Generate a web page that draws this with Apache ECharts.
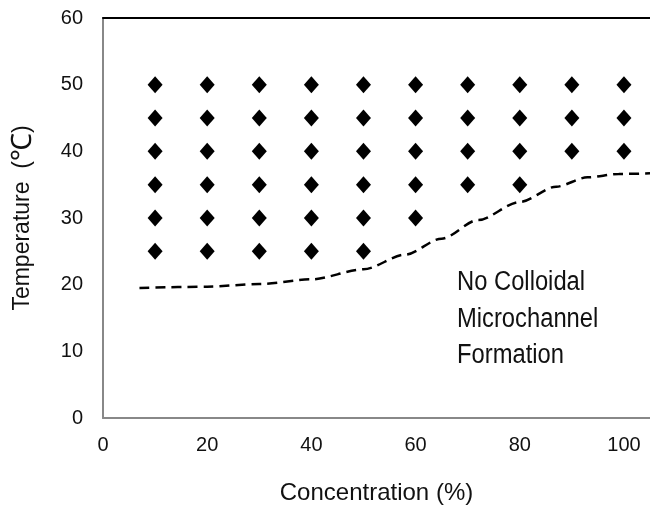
<!DOCTYPE html>
<html>
<head>
<meta charset="utf-8">
<script src="https://cdn.jsdelivr.net/npm/echarts@6/dist/echarts.min.js"></script>
<style>
  html, body { margin: 0; padding: 0; background: #fff; }
  #chart { width: 650px; height: 508px; }
</style>
</head>
<body>
<div id="chart"></div>
<script>
// observed points: concentration -> temperatures with microchannels
var concentrations = [10, 20, 30, 40, 50, 60, 70, 80, 90, 100];
var tempsAt = [
  [25, 30, 35, 40, 45, 50],
  [25, 30, 35, 40, 45, 50],
  [25, 30, 35, 40, 45, 50],
  [25, 30, 35, 40, 45, 50],
  [25, 30, 35, 40, 45, 50],
  [30, 35, 40, 45, 50],
  [35, 40, 45, 50],
  [35, 40, 45, 50],
  [40, 45, 50],
  [40, 45, 50]
];
// dashed boundary line
var boundaryX = [7, 20, 30, 40, 50, 58, 65, 72, 80, 87, 93, 99, 105];
var boundaryY = [19.5, 19.7, 20.1, 20.8, 22.3, 24.5, 26.9, 29.7, 32.4, 34.7, 36.1, 36.6, 36.7];

var xTicks = [0, 20, 40, 60, 80, 100];
var yTicks = [0, 10, 20, 30, 40, 50, 60];

var font = 'Liberation Sans';

var points = [];
concentrations.forEach(function (c, i) {
  tempsAt[i].forEach(function (t) { points.push([c, t]); });
});
var boundary = boundaryX.map(function (x, i) { return [x, boundaryY[i]]; });

var chart = echarts.init(document.getElementById('chart'));
chart.setOption({
  animation: false,
  grid: { left: 103, top: 18, right: 0, bottom: 90, outerBoundsMode: 'none' },
  xAxis: [{
    type: 'value', min: 0, max: 105, interval: 20,
    name: 'Concentration (%)', nameLocation: 'middle', nameGap: 63,
    nameTextStyle: { fontFamily: font, fontSize: 24, color: '#111' },
    axisLine: { show: true, lineStyle: { color: '#888', width: 2 } },
    axisTick: { show: false },
    splitLine: { show: false },
    axisLabel: {
      fontFamily: font, fontSize: 20, color: '#111', margin: 17,
      showMaxLabel: false,
      formatter: function (v) { return xTicks.indexOf(v) >= 0 ? v : ''; }
    }
  }, {
    type: 'value', min: 0, max: 105, position: 'top',
    axisLine: { show: true, lineStyle: { color: '#000', width: 2 } },
    axisTick: { show: false }, axisLabel: { show: false }, splitLine: { show: false }
  }],
  yAxis: {
    type: 'value', min: 0, max: 60, interval: 10,
    name: 'Temperature  ({c|℃})', nameLocation: 'middle', nameGap: 66, nameRotate: 90,
    nameTextStyle: {
      fontFamily: font, fontSize: 23, color: '#111',
      rich: { c: { fontSize: 28, color: '#111' } }
    },
    axisLine: { show: true, lineStyle: { color: '#888', width: 2 } },
    axisTick: { show: false },
    splitLine: { show: false },
    axisLabel: {
      fontFamily: font, fontSize: 20, color: '#111', margin: 20,
      formatter: function (v) { return yTicks.indexOf(v) >= 0 ? v : ''; }
    }
  },
  graphic: [{
    type: 'text', left: 457, top: 264, scaleX: 0.88,
    style: {
      text: 'No Colloidal\nMicrochannel\nFormation',
      font: "27px 'Liberation Sans'", fill: '#111', lineHeight: 36.7
    }
  }],
  series: [{
    type: 'scatter',
    data: points,
    symbol: 'diamond',
    symbolSize: [15, 17],
    itemStyle: { color: '#000', opacity: 1 }
  }, {
    type: 'line',
    data: boundary,
    smooth: 0.3,
    smoothMonotone: 'x',
    showSymbol: false,
    lineStyle: { color: '#000', width: 2.5, type: [10, 6] }
  }]
});
</script>
</body>
</html>
